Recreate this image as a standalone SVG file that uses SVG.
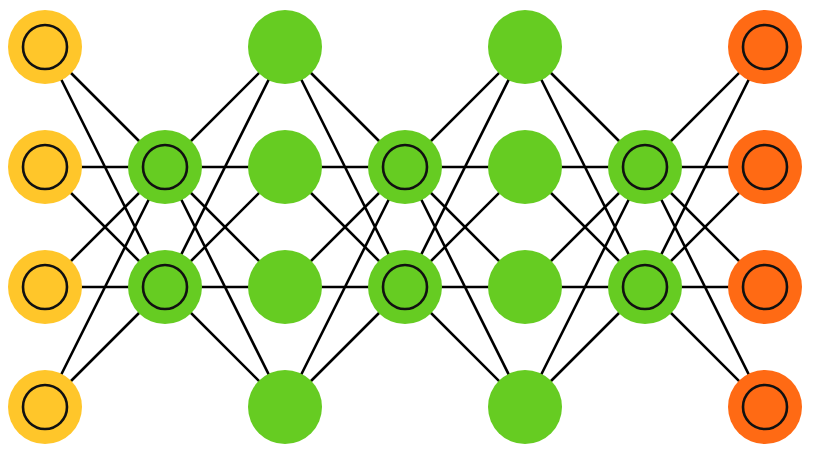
<svg xmlns="http://www.w3.org/2000/svg" width="826" height="457" viewBox="0 0 826 457">
<style>
.e{stroke:#000;stroke-width:2.6;fill:none}
.in{fill:#FFC62A}
.hd{fill:#66CC22}
.out{fill:#FF6A14}
.ring{fill:none;stroke:#111;stroke-width:2.6}
</style>
<rect width="826" height="457" fill="#fff"/>
<g id="connectors" class="e">
<path d="M45 47L165 167M45 47L165 287M45 167L165 167M45 167L165 287M45 287L165 167M45 287L165 287M45 407L165 167M45 407L165 287"/>
<path d="M165 167L285 47M165 167L285 167M165 167L285 287M165 167L285 407M165 287L285 47M165 287L285 167M165 287L285 287M165 287L285 407"/>
<path d="M285 47L405 167M285 47L405 287M285 167L405 167M285 167L405 287M285 287L405 167M285 287L405 287M285 407L405 167M285 407L405 287"/>
<path d="M405 167L525 47M405 167L525 167M405 167L525 287M405 167L525 407M405 287L525 47M405 287L525 167M405 287L525 287M405 287L525 407"/>
<path d="M525 47L645 167M525 47L645 287M525 167L645 167M525 167L645 287M525 287L645 167M525 287L645 287M525 407L645 167M525 407L645 287"/>
<path d="M645 167L765 47M645 167L765 167M645 167L765 287M645 167L765 407M645 287L765 47M645 287L765 167M645 287L765 287M645 287L765 407"/>
</g>
<g id="in1"><circle class="in" cx="45" cy="47" r="37"/><circle class="ring" cx="45" cy="47" r="22"/></g>
<g id="in2"><circle class="in" cx="45" cy="167" r="37"/><circle class="ring" cx="45" cy="167" r="22"/></g>
<g id="in3"><circle class="in" cx="45" cy="287" r="37"/><circle class="ring" cx="45" cy="287" r="22"/></g>
<g id="in4"><circle class="in" cx="45" cy="407" r="37"/><circle class="ring" cx="45" cy="407" r="22"/></g>
<g id="h1a"><circle class="hd" cx="165" cy="167" r="37"/><circle class="ring" cx="165" cy="167" r="22"/></g>
<g id="h1b"><circle class="hd" cx="165" cy="287" r="37"/><circle class="ring" cx="165" cy="287" r="22"/></g>
<g id="h2a"><circle class="hd" cx="285" cy="47" r="37"/></g>
<g id="h2b"><circle class="hd" cx="285" cy="167" r="37"/></g>
<g id="h2c"><circle class="hd" cx="285" cy="287" r="37"/></g>
<g id="h2d"><circle class="hd" cx="285" cy="407" r="37"/></g>
<g id="h3a"><circle class="hd" cx="405" cy="167" r="37"/><circle class="ring" cx="405" cy="167" r="22"/></g>
<g id="h3b"><circle class="hd" cx="405" cy="287" r="37"/><circle class="ring" cx="405" cy="287" r="22"/></g>
<g id="h4a"><circle class="hd" cx="525" cy="47" r="37"/></g>
<g id="h4b"><circle class="hd" cx="525" cy="167" r="37"/></g>
<g id="h4c"><circle class="hd" cx="525" cy="287" r="37"/></g>
<g id="h4d"><circle class="hd" cx="525" cy="407" r="37"/></g>
<g id="h5a"><circle class="hd" cx="645" cy="167" r="37"/><circle class="ring" cx="645" cy="167" r="22"/></g>
<g id="h5b"><circle class="hd" cx="645" cy="287" r="37"/><circle class="ring" cx="645" cy="287" r="22"/></g>
<g id="out1"><circle class="out" cx="765" cy="47" r="37"/><circle class="ring" cx="765" cy="47" r="22"/></g>
<g id="out2"><circle class="out" cx="765" cy="167" r="37"/><circle class="ring" cx="765" cy="167" r="22"/></g>
<g id="out3"><circle class="out" cx="765" cy="287" r="37"/><circle class="ring" cx="765" cy="287" r="22"/></g>
<g id="out4"><circle class="out" cx="765" cy="407" r="37"/><circle class="ring" cx="765" cy="407" r="22"/></g>
</svg>
